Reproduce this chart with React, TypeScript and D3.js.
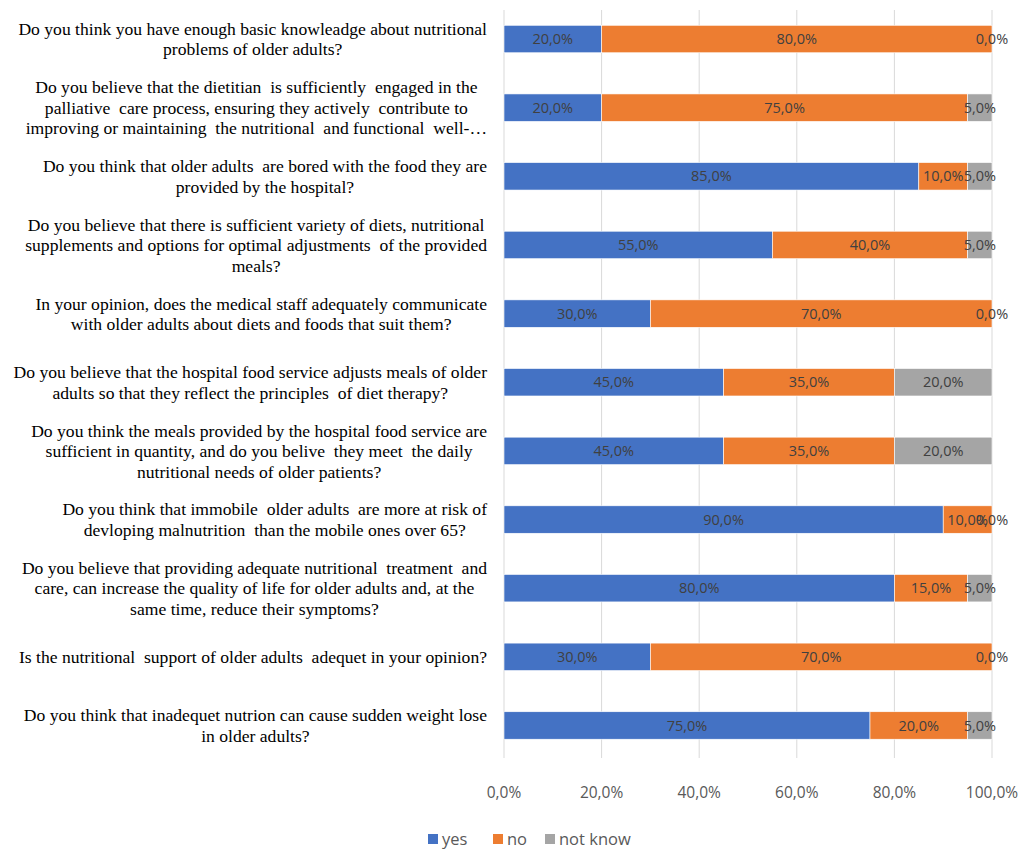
import * as d3 from "d3";

const questions: string[][] = [
    ["Do you think you have enough basic knowleadge about nutritional", "problems of older adults?"],
    ["Do you believe that the dietitian  is sufficiently  engaged in the", "palliative  care process, ensuring they actively  contribute to", "improving or maintaining  the nutritional  and functional  well-…"],
    ["Do you think that older adults  are bored with the food they are", "provided by the hospital?"],
    ["Do you believe that there is sufficient variety of diets, nutritional", "supplements and options for optimal adjustments  of the provided", "meals?"],
    ["In your opinion, does the medical staff adequately communicate", "with older adults about diets and foods that suit them?"],
    ["Do you believe that the hospital food service adjusts meals of older", "adults so that they reflect the principles  of diet therapy?"],
    ["Do you think the meals provided by the hospital food service are", "sufficient in quantity, and do you belive  they meet  the daily", "nutritional needs of older patients?"],
    ["Do you think that immobile  older adults  are more at risk of", "devloping malnutrition  than the mobile ones over 65?"],
    ["Do you believe that providing adequate nutritional  treatment  and", "care, can increase the quality of life for older adults and, at the", "same time, reduce their symptoms?"],
    ["Is the nutritional  support of older adults  adequet in your opinion?"],
    ["Do you think that inadequet nutrion can cause sudden weight lose", "in older adults?"],
];

const yes = [20, 20, 85, 55, 30, 45, 45, 90, 80, 30, 75];
const no = [80, 75, 10, 40, 70, 35, 35, 10, 15, 70, 20];
const notKnow = [0, 5, 5, 5, 0, 20, 20, 0, 5, 0, 5];

const seriesNames = ["yes", "no", "not know"];
const seriesColors = ["#4472C4", "#ED7D31", "#A5A5A5"];
const xTicks = [0, 20, 40, 60, 80, 100];

const width = 1013;
const height = 843;
const labelSize = 17.6;
const labelFont = `${labelSize}px 'Liberation Serif'`;
const lineHeight = 20.5;

let ctx: CanvasRenderingContext2D | null = null;
function measure(text: string) {
    if (!ctx) ctx = document.createElement("canvas").getContext("2d");
    if (!ctx) return text.length * 7;
    ctx.font = labelFont;
    return ctx.measureText(text).width;
}

const fmt = (v: number) => v.toFixed(1).replace(".", ",") + "%";

export default function App() {
    const x = d3.scaleLinear([0, 100], [496, 984]);
    const y = d3.scaleBand<number>(d3.range(questions.length), [-3.3, 751.8])
        .paddingInner(0.6)
        .paddingOuter(0.3);

    const rows = questions.map((_, i) => {
        const vals = [yes[i], no[i], notKnow[i]];
        let acc = 0;
        return vals.map((v, s) => {
            const seg = {s, v, x0: acc, x1: acc + v};
            acc += v;
            return seg;
        });
    });

    const labelRight = 479;

    return <svg width={width} height={height} style={{display: "block"}}>
        <rect width={width} height={height} fill="white"/>
        {xTicks.map(t => <g key={t}>
            <line x1={x(t)} x2={x(t)} y1={2} y2={750} stroke="#d9d9d9" strokeWidth={1}/>
            <text x={x(t)} y={790} textAnchor="middle" fontFamily="'Open Sans'" fontSize={15.5}
                  fill="#595959">{fmt(t)}</text>
        </g>)}
        {rows.map((segs, i) => {
            const yc = y(i)! + y.bandwidth() / 2;
            return <g key={i}>
                {segs.map(seg => <rect key={seg.s} x={x(seg.x0)} y={y(i)} width={x(seg.x1) - x(seg.x0)}
                                       height={y.bandwidth()} fill={seriesColors[seg.s]}
                                       stroke="white" strokeWidth={0.6}/>)}
                {segs.map(seg => <text key={"l" + seg.s} x={(x(seg.x0) + x(seg.x1)) / 2} y={yc} dy="0.35em"
                                       textAnchor="middle" fontFamily="'Open Sans'" fontSize={14.5}
                                       fill="#404040">{fmt(seg.v)}</text>)}
            </g>;
        })}
        {questions.map((lines, i) => {
            const yc = y(i)! + y.bandwidth() / 2;
            const maxW = d3.max(lines, l => measure(l)) ?? 0;
            const cx = labelRight - maxW / 2;
            const y0 = yc - (lines.length - 1) * lineHeight / 2;
            return <text key={i} fontFamily="'Liberation Serif'" fontSize={labelSize} fill="#000" textAnchor="middle"
                         style={{whiteSpace: "pre"}}>
                {lines.map((l, j) => <tspan key={j} x={cx} y={y0 + j * lineHeight} dy="0.35em">{l}</tspan>)}
            </text>;
        })}
        <g transform="translate(0,837)">
            {seriesNames.map((n, k) => {
                const offs = [420, 485, 537];
                return <g key={n} transform={`translate(${offs[k]},0)`}>
                    <rect x={0} y={-11} width={10} height={10} fill={seriesColors[k]}/>
                    <text x={14} y={0} fontFamily="'Open Sans'" fontSize={16.5} fill="#595959">{n}</text>
                </g>;
            })}
        </g>
    </svg>;
}
